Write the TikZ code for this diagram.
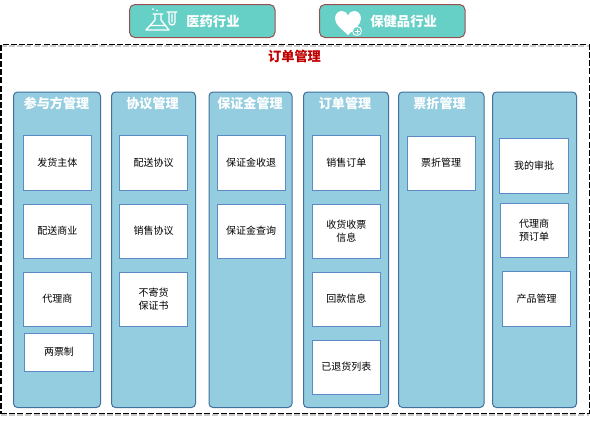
\documentclass[tikz,border=0pt]{standalone}
\usepackage{fontspec}
\setmainfont{Noto Sans CJK SC}
\definecolor{colfill}{HTML}{94CDDF}
\definecolor{colline}{HTML}{41719C}
\definecolor{boxline}{HTML}{5B8AC6}
\definecolor{btnfill}{HTML}{67D0C6}
\definecolor{btnline}{HTML}{9A4F4F}
\definecolor{titlered}{HTML}{C00000}
\tikzset{
  x=0.75pt,y=-0.75pt,
  column/.style={draw=colline,fill=colfill,line width=0.75pt,rounded corners=3pt,inner sep=0pt,anchor=north west},
  cell/.style={draw=boxline,fill=white,line width=0.75pt,inner sep=0pt,align=center,font=\fontsize{7.5pt}{10pt}\selectfont,text=black},
  headtext/.style={font=\fontsize{9.8pt}{12pt}\selectfont\bfseries,text=white,inner sep=0pt},
  button/.style={draw=btnline,fill=btnfill,line width=0.75pt,rounded corners=4pt,inner sep=0pt},
  btntext/.style={font=\fontsize{10pt}{12pt}\selectfont\bfseries,text=white,inner sep=0pt},
  icon/.style={draw=white,line width=1pt,line join=round,line cap=round},
  framedash/.style={dash pattern=on 4.5pt off 1.6pt},
}
\newcommand{\colbox}[5]{\node[column,minimum width=#3*0.75pt,minimum height=#4*0.75pt] (#5) at (#1,#2) {};}
\newcommand{\cellbox}[7]{\node[cell,anchor=north west,minimum width=#3*0.75pt,minimum height=#4*0.75pt] (#5) at (#1,#2) {#6};}
\begin{document}
\begin{tikzpicture}
\useasboundingbox (0,0) rectangle (590,422);
% soft shadow of the frame
\draw[black!20,line width=1pt,framedash] (1,46) -- (589,46) (1,415) -- (589,415);
% outer dashed frame
\node[draw=black,framedash,line width=0.9pt,anchor=north west,minimum width=588*0.75pt,minimum height=369*0.75pt,inner sep=0pt] (frame) at (0.5,44) {};
% buttons
\node[button,anchor=north west,minimum width=145.5*0.75pt,minimum height=33*0.75pt] (b1) at (129,4) {};
\node[button,anchor=north west,minimum width=145.5*0.75pt,minimum height=33*0.75pt] (b2) at (319,4) {};
\node[btntext,anchor=west] (b1t) at (186,21) {医药行业};
\node[btntext,anchor=west] (b2t) at (370,21) {保健品行业};
% flask icon
\draw[icon] (155,14) -- (155,20) -- (146,30) -- (169,30) -- (161,20) -- (161,14) (153,14) -- (163,14) (150.5,25.5) -- (165,25.5);
\draw[icon] (169,13) -- (169,22) arc[start angle=180,end angle=360,x radius=3,y radius=-3] -- (175,13) (167,12) -- (177,12) (172,14) -- (172,22);
\fill[white] (153,9) circle[radius=1] (157,10.5) circle[radius=0.8];
% heart icon
\fill[white] (348,35) .. controls (342,29) and (335,25) .. (335,18.5) .. controls (335,13.5) and (338.5,11) .. (342,11) .. controls (345,11) and (347,13) .. (348,15.5) .. controls (349,13) and (351,11) .. (354,11) .. controls (357.5,11) and (361,13.5) .. (361,18.5) .. controls (361,25) and (354,29) .. (348,35) -- cycle;
\draw[white,fill=btnfill,line width=0.7pt] (357,31) circle[radius=4.5];
\draw[white,line width=0.6pt] (354.5,31) -- (359.5,31) (357,28.5) -- (357,33.5);
% frame title
\node[inner sep=0pt,font=\fontsize{9.9pt}{12pt}\selectfont\bfseries,text=titlered] (title) at (294.5,56) {订单管理};
\begin{scope}[shift={(-0.5,-0.5)}]
% columns
\colbox{13.5}{92}{87}{315.5}{}{c1}
\colbox{111.5}{92}{84}{315.5}{}{c2}
\colbox{209}{92}{83}{315.5}{}{c3}
\colbox{303.5}{92}{85}{315.5}{}{c4}
\colbox{398.5}{92}{85.5}{315.5}{}{c5}
\colbox{492.5}{92}{84}{315.5}{}{c6}
% headers
\node[headtext] (h1) at (57,104) {参与方管理};
\node[headtext] (h2) at (153,104) {协议管理};
\node[headtext] (h3) at (250.5,104) {保证金管理};
\node[headtext] (h4) at (345.5,104) {订单管理};
\node[headtext] (h5) at (440,104) {票折管理};
% cells
\cellbox{23.5}{135.5}{68}{54.5}{a1}{发货主体}{}
\cellbox{23.5}{204}{68}{54}{a2}{配送商业}{}
\cellbox{23.5}{272}{68}{54}{a3}{代理商}{}
\cellbox{24.5}{333}{69}{38}{a4}{两票制}{}
\cellbox{119.5}{135.5}{68}{54.5}{b1c}{配送协议}{}
\cellbox{119.5}{204}{68}{54}{b2c}{销售协议}{}
\cellbox{119.5}{272}{68}{54}{b3c}{不寄货\\保证书}{}
\cellbox{217}{135.5}{68}{54.5}{c1c}{保证金收退}{}
\cellbox{217}{204}{68}{54}{c2c}{保证金查询}{}
\cellbox{312}{135.5}{68.5}{54.5}{d1c}{销售订单}{}
\cellbox{312}{204}{68.5}{54}{d2c}{收货收票\\信息}{}
\cellbox{312}{272}{68.5}{54}{d3c}{回款信息}{}
\cellbox{312}{340}{68.5}{54}{d4c}{已退货列表}{}
\cellbox{407}{136}{68}{54}{e1c}{票折管理}{}
\cellbox{499.5}{138.5}{69}{55}{f1c}{我的审批}{}
\cellbox{500}{203}{68}{54}{f2c}{代理商\\预订单}{}
\cellbox{502.5}{271.5}{68}{55}{f3c}{产品管理}{}
\end{scope}
\end{tikzpicture}
\end{document}
